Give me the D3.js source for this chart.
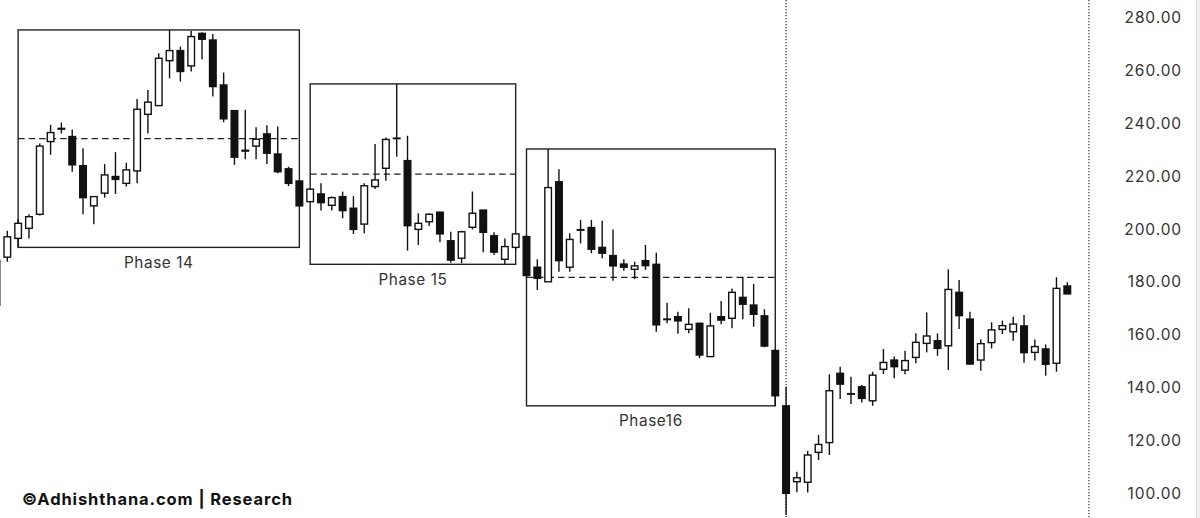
<!DOCTYPE html>
<html><head><meta charset="utf-8">
<script src="https://cdn.jsdelivr.net/npm/d3@7"></script>
<style>html,body{margin:0;padding:0;background:#fff;overflow:hidden}</style>
</head><body><svg id="c" width="1200" height="518"></svg>
<script>
// ---- data ----
const opens  = [188.0,189.2,196.3,200.1,205.4,232.9,237.6,234.8,223.8,208.6,
                213.4,219.7,217.1,221.8,243.2,246.5,263.5,267.3,261.5,273.8,
                271.3,254.3,244.6,229.3,231.2,235.8,228.2,222.6,218.0,210.2,
                213.1,208.8,212.1,207.7,201.7,215.9,222.8,234.0,225.7,199.7,
                202.6,206.2,195.4,188.8,200.5,207.0,197.3,188.4,192.9,197.0,
                185.4,179.9,217.7,185.4,199.4,200.4,192.9,189.8,186.6,184.6,
                187.9,186.5,165.6,166.7,161.9,164.2,151.6,166.7,166.1,174.0,
                171.1,167.0,153.9,133.0,104.3,104.1,115.4,119.1,145.3,137.4,
                140.2,134.9,146.8,150.3,146.5,151.3,156.6,157.6,155.7,175.9,
                165.8,150.3,156.9,161.9,161.0,163.2,153.2,154.5,149.1,178.3];
const highs  = [189.5,199.2,203.5,205.4,232.2,239.2,240.1,237.5,230.4,212.1,
                224.4,228.9,224.9,249.0,252.4,266.3,275.1,268.8,274.7,274.2,
                273.6,259.0,244.6,244.9,238.3,239.1,238.6,223.4,218.0,215.2,
                217.1,212.1,214.0,212.3,217.1,232.0,234.4,254.7,235.1,205.8,
                205.8,206.4,198.8,199.2,214.0,207.0,198.6,196.3,198.3,197.5,
                188.4,230.1,222.4,198.2,203.3,203.3,203.0,199.7,188.4,187.5,
                193.8,190.9,172.0,168.6,169.9,164.4,168.2,172.6,177.4,181.8,
                179.1,169.5,154.5,140.2,108.1,115.9,122.0,144.9,147.8,144.0,
                140.9,145.9,154.5,151.6,153.8,160.4,168.3,160.4,184.6,180.6,
                168.6,158.1,164.6,165.2,166.7,167.3,158.1,156.2,181.6,179.7];
const lows   = [170.5,187.5,192.9,196.3,205.0,227.9,236.0,221.5,205.4,201.6,
                211.7,213.1,215.9,217.1,236.0,246.5,256.8,255.6,259.4,264.0,
                249.9,240.2,224.1,226.2,226.2,224.4,220.9,216.1,208.6,209.9,
                206.8,206.8,203.9,198.0,198.2,215.0,218.1,227.2,191.7,193.8,
                201.0,194.8,187.1,186.9,199.7,191.1,190.0,186.5,191.9,181.5,
                176.8,179.9,183.7,183.7,194.4,190.7,188.8,180.3,184.1,180.9,
                184.4,161.0,164.2,160.2,160.4,151.0,151.6,163.8,162.3,165.7,
                162.9,155.1,133.0,91.7,100.3,100.2,112.5,114.4,135.6,133.7,
                134.3,133.0,145.0,143.4,144.9,149.1,153.2,151.9,146.5,162.0,
                148.4,146.3,154.7,160.1,157.6,149.3,150.1,144.4,145.9,175.3];
const closes = [171.0,196.9,202.0,204.5,231.2,236.3,237.9,224.1,211.7,212.1,
                220.3,218.6,222.2,245.1,247.8,264.4,267.3,259.4,272.6,271.6,
                253.7,241.5,227.0,229.6,233.8,228.5,221.5,217.1,208.6,214.9,
                209.8,211.7,206.8,199.7,216.2,218.4,233.7,234.2,201.1,202.0,
                205.4,198.0,188.1,198.8,205.8,198.6,191.1,193.2,198.0,182.3,
                181.2,215.5,187.9,195.9,199.6,192.2,190.7,185.9,185.4,185.9,
                186.0,163.6,165.8,165.1,163.8,152.2,163.2,165.4,175.9,171.4,
                167.6,155.6,136.8,99.9,105.8,114.4,118.4,138.7,141.2,137.6,
                135.8,144.6,149.4,147.8,150.1,157.0,159.4,154.7,177.0,167.1,
                148.8,156.5,161.7,163.3,163.9,153.1,155.4,148.7,177.4,175.3];
const yTicks = [100,120,140,160,180,200,220,240,260,280];
const phaseNames = ["Phase 14","Phase 15","Phase16"];
const phaseStart = [2,29,49];
const phaseEnd   = [28,48,72];
const markerIndex = [73,101];
const watermark = "©Adhishthana.com | Research";

// ---- drawing ----
const W = 1200, H = 518;
const svg = d3.select("#c");
const x = d3.scaleLinear().domain([0, 99]).range([-3.5, 1067.3]);
const y = d3.scaleLinear().domain([100, 280]).range([493.1, 17]);
const candles = opens.map((o,i)=>({i, o, h:highs[i], l:lows[i], c:closes[i]}));
const bodyW = 6.6;
const ink = "#111";

// right edge strip
svg.append("rect").attr("x",1196.5).attr("y",0).attr("width",3.5).attr("height",H)
   .attr("fill","#efefef");
svg.append("line").attr("x1",1196.5).attr("x2",1196.5).attr("y1",0).attr("y2",H)
   .attr("stroke","#dedede").attr("stroke-width",1);

// phases
const phases = phaseNames.map((name,k)=>{
  const seg = candles.slice(phaseStart[k], phaseEnd[k]+1);
  const hi = d3.max(seg, d=>d.h), lo = d3.min(seg, d=>d.l);
  return {name, x0:x(phaseStart[k]), x1:x(phaseEnd[k]), hi, lo, mid:(hi+lo)/2};
});
const pg = svg.append("g");
pg.selectAll("rect.box").data(phases).join("rect").attr("class","box")
  .attr("x",d=>d.x0).attr("width",d=>d.x1-d.x0)
  .attr("y",d=>y(d.hi)).attr("height",d=>y(d.lo)-y(d.hi))
  .attr("fill","none").attr("stroke","#222").attr("stroke-width",1.4);
pg.selectAll("line.mid").data(phases).join("line").attr("class","mid")
  .attr("x1",d=>d.x0).attr("x2",d=>d.x1)
  .attr("y1",d=>y(d.mid)).attr("y2",d=>y(d.mid))
  .attr("stroke","#222").attr("stroke-width",1.4).attr("stroke-dasharray","6.5,4");
pg.selectAll("text.lbl").data(phases).join("text").attr("class","lbl")
  .attr("x",d=>(d.x0+d.x1)/2).attr("y",d=>y(d.lo)+20.5)
  .attr("text-anchor","middle").attr("font-family","Inter, 'Liberation Sans', sans-serif")
  .attr("font-size",15.3).attr("letter-spacing","0.6px").attr("fill","#333").text(d=>d.name);

// dotted vertical markers
svg.append("g").selectAll("line").data(markerIndex).join("line")
  .attr("x1",d=>x(d)).attr("x2",d=>x(d)).attr("y1",0).attr("y2",H)
  .attr("stroke","#333").attr("stroke-width",1.2).attr("stroke-dasharray","1.2,1.8");

// candles
const cg = svg.append("g");
cg.selectAll("line.wick").data(candles).join("line").attr("class","wick")
  .attr("x1",d=>x(d.i)).attr("x2",d=>x(d.i))
  .attr("y1",d=>y(d.h)).attr("y2",d=>y(d.l))
  .attr("stroke",ink).attr("stroke-width",1.4);
cg.selectAll("rect.body").data(candles).join("rect").attr("class","body")
  .attr("x",d=>x(d.i)-bodyW/2).attr("width",bodyW)
  .attr("y",d=>y(Math.max(d.o,d.c)))
  .attr("height",d=>Math.max(0.4, Math.abs(y(d.o)-y(d.c))))
  .attr("fill",d=>d.c>=d.o ? "#fff" : ink)
  .attr("stroke",ink).attr("stroke-width",1.4);

// price axis
const ax = svg.append("g").attr("transform","translate(1182,0)")
  .call(d3.axisRight(y).tickValues(yTicks).tickFormat(d3.format(".2f")).tickSize(0));
ax.select(".domain").remove();
ax.selectAll("text").attr("x",0).attr("dy","0.35em").attr("text-anchor","end")
  .attr("font-family","Inter, 'Liberation Sans', sans-serif").attr("font-size",15.5)
  .attr("letter-spacing","0.9px").attr("fill","#333");

// watermark
svg.append("text").attr("x",22).attr("y",505)
  .attr("font-family","Inter, 'Liberation Sans', sans-serif").attr("font-weight",700)
  .attr("font-size",16.5).attr("letter-spacing","0.9px").attr("fill","#111").text(watermark);
</script></body></html>
